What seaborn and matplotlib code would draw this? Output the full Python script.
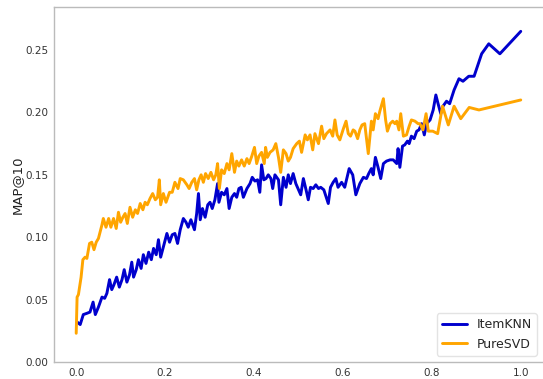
import matplotlib
matplotlib.use("Agg")
import matplotlib.pyplot as plt
import seaborn as sns
import pandas as pd

# ItemKNN: MAP@10 against the fraction threshold
itemknn_x = [
    0.002, 0.009, 0.016, 0.024, 0.031, 0.038, 0.043, 0.050, 0.058, 0.064,
    0.069, 0.075, 0.080, 0.085, 0.091, 0.097, 0.103, 0.108, 0.114, 0.120,
    0.125, 0.129, 0.135, 0.140, 0.146, 0.151, 0.157, 0.163, 0.169, 0.174,
    0.180, 0.185, 0.190, 0.196, 0.204, 0.210, 0.216, 0.222, 0.228, 0.234,
    0.241, 0.247, 0.252, 0.258, 0.266, 0.271, 0.275, 0.279, 0.284, 0.290,
    0.296, 0.301, 0.306, 0.312, 0.318, 0.321, 0.327, 0.333, 0.339, 0.344,
    0.350, 0.356, 0.361, 0.366, 0.371, 0.376, 0.384, 0.391, 0.396, 0.402,
    0.408, 0.413, 0.417, 0.422, 0.427, 0.432, 0.438, 0.442, 0.447, 0.455,
    0.460, 0.466, 0.472, 0.477, 0.482, 0.488, 0.494, 0.500, 0.505, 0.511,
    0.517, 0.522, 0.527, 0.533, 0.539, 0.545, 0.550, 0.557, 0.567, 0.572,
    0.578, 0.584, 0.589, 0.597, 0.604, 0.614, 0.622, 0.629, 0.638, 0.646,
    0.653, 0.658, 0.664, 0.668, 0.673, 0.679, 0.685, 0.691, 0.698, 0.706,
    0.713, 0.721, 0.724, 0.728, 0.734, 0.739, 0.745, 0.749, 0.754, 0.760,
    0.766, 0.771, 0.777, 0.783, 0.788, 0.796, 0.803, 0.809, 0.814, 0.820,
    0.825, 0.833, 0.840, 0.850, 0.861, 0.870, 0.883, 0.895, 0.912, 0.928,
    0.953, 1.000,
]
itemknn_map = [
    0.032, 0.030, 0.038, 0.039, 0.040, 0.048, 0.038, 0.044, 0.052, 0.051,
    0.055, 0.066, 0.058, 0.062, 0.068, 0.060, 0.066, 0.074, 0.064, 0.070,
    0.080, 0.068, 0.074, 0.082, 0.075, 0.086, 0.079, 0.088, 0.082, 0.091,
    0.086, 0.098, 0.084, 0.092, 0.103, 0.096, 0.102, 0.103, 0.095, 0.106,
    0.115, 0.112, 0.108, 0.114, 0.106, 0.119, 0.135, 0.114, 0.123, 0.116,
    0.126, 0.128, 0.123, 0.130, 0.143, 0.128, 0.136, 0.134, 0.139, 0.123,
    0.132, 0.135, 0.132, 0.139, 0.140, 0.132, 0.139, 0.143, 0.148, 0.145,
    0.146, 0.136, 0.158, 0.146, 0.147, 0.150, 0.147, 0.139, 0.150, 0.146,
    0.126, 0.148, 0.140, 0.150, 0.143, 0.151, 0.143, 0.138, 0.134, 0.147,
    0.138, 0.130, 0.140, 0.139, 0.142, 0.139, 0.140, 0.138, 0.127, 0.140,
    0.144, 0.147, 0.140, 0.144, 0.140, 0.155, 0.150, 0.134, 0.143, 0.148,
    0.147, 0.151, 0.155, 0.150, 0.164, 0.156, 0.147, 0.159, 0.161, 0.162,
    0.162, 0.159, 0.171, 0.156, 0.173, 0.174, 0.177, 0.175, 0.181, 0.179,
    0.185, 0.186, 0.191, 0.182, 0.191, 0.194, 0.202, 0.214, 0.207, 0.199,
    0.205, 0.209, 0.207, 0.218, 0.227, 0.225, 0.229, 0.229, 0.247, 0.255,
    0.247, 0.265,
]

# PureSVD: MAP@10 against the fraction threshold
puresvd_x = [
    0.000, 0.002, 0.005, 0.011, 0.015, 0.020, 0.024, 0.030, 0.035, 0.040,
    0.045, 0.050, 0.058, 0.061, 0.067, 0.073, 0.078, 0.084, 0.090, 0.095,
    0.100, 0.105, 0.110, 0.115, 0.121, 0.127, 0.133, 0.138, 0.144, 0.150,
    0.155, 0.160, 0.166, 0.172, 0.178, 0.183, 0.187, 0.190, 0.196, 0.202,
    0.210, 0.216, 0.222, 0.229, 0.234, 0.241, 0.249, 0.254, 0.260, 0.266,
    0.271, 0.276, 0.281, 0.286, 0.291, 0.297, 0.303, 0.309, 0.314, 0.318,
    0.322, 0.327, 0.333, 0.339, 0.344, 0.350, 0.356, 0.361, 0.366, 0.372,
    0.378, 0.384, 0.389, 0.395, 0.401, 0.406, 0.411, 0.417, 0.423, 0.426,
    0.430, 0.436, 0.443, 0.449, 0.455, 0.460, 0.466, 0.472, 0.477, 0.482,
    0.488, 0.496, 0.502, 0.507, 0.515, 0.520, 0.526, 0.532, 0.537, 0.545,
    0.552, 0.557, 0.563, 0.571, 0.577, 0.582, 0.587, 0.593, 0.601, 0.607,
    0.612, 0.617, 0.623, 0.627, 0.633, 0.638, 0.643, 0.649, 0.657, 0.664,
    0.668, 0.673, 0.679, 0.683, 0.691, 0.696, 0.700, 0.706, 0.712, 0.717,
    0.721, 0.726, 0.730, 0.736, 0.743, 0.749, 0.754, 0.762, 0.769, 0.773,
    0.780, 0.787, 0.792, 0.802, 0.813, 0.824, 0.837, 0.850, 0.865, 0.884,
    0.906, 1.000,
]
puresvd_map = [
    0.023, 0.052, 0.054, 0.068, 0.082, 0.084, 0.083, 0.095, 0.096, 0.090,
    0.096, 0.099, 0.110, 0.115, 0.108, 0.115, 0.108, 0.115, 0.107, 0.120,
    0.112, 0.116, 0.119, 0.111, 0.124, 0.116, 0.122, 0.119, 0.127, 0.122,
    0.128, 0.126, 0.131, 0.135, 0.130, 0.132, 0.146, 0.126, 0.135, 0.128,
    0.136, 0.136, 0.144, 0.139, 0.147, 0.146, 0.142, 0.139, 0.144, 0.147,
    0.138, 0.146, 0.150, 0.144, 0.151, 0.147, 0.152, 0.146, 0.150, 0.159,
    0.139, 0.154, 0.151, 0.159, 0.154, 0.167, 0.152, 0.161, 0.157, 0.162,
    0.157, 0.163, 0.159, 0.165, 0.172, 0.159, 0.165, 0.168, 0.159, 0.172,
    0.164, 0.168, 0.170, 0.175, 0.164, 0.152, 0.170, 0.167, 0.161, 0.164,
    0.171, 0.175, 0.177, 0.168, 0.182, 0.178, 0.182, 0.170, 0.183, 0.175,
    0.189, 0.179, 0.183, 0.186, 0.181, 0.194, 0.182, 0.178, 0.187, 0.193,
    0.183, 0.181, 0.186, 0.185, 0.179, 0.186, 0.190, 0.191, 0.167, 0.193,
    0.186, 0.199, 0.195, 0.201, 0.211, 0.194, 0.185, 0.191, 0.193, 0.191,
    0.193, 0.186, 0.199, 0.181, 0.182, 0.189, 0.194, 0.193, 0.191, 0.191,
    0.186, 0.199, 0.185, 0.185, 0.183, 0.205, 0.190, 0.205, 0.195, 0.204,
    0.202, 0.210,
]

models = ["ItemKNN", "PureSVD"]
colors = {"ItemKNN": "#0000CD", "PureSVD": "#FFA500"}

df = pd.concat([
    pd.DataFrame({"threshold": itemknn_x, "MAP@10": itemknn_map, "model": "ItemKNN"}),
    pd.DataFrame({"threshold": puresvd_x, "MAP@10": puresvd_map, "model": "PureSVD"}),
], ignore_index=True)

sns.set_style("white")
plt.rcParams["font.family"] = ["DejaVu Sans"]

fig = plt.figure(figsize=(5.43, 3.79), dpi=100)
ax = fig.add_axes([0.0994, 0.0449, 0.9006, 0.9366])

for m in models:
    sub = df[df["model"] == m]
    sns.lineplot(data=sub, x="threshold", y="MAP@10", ax=ax, color=colors[m],
                 linewidth=2.1, label=m, estimator=None, sort=False)

ax.set_xlim(-0.05, 1.05)
ax.set_ylim(0, 0.2845)
ax.set_xticks([0.0, 0.2, 0.4, 0.6, 0.8, 1.0])
ax.set_yticks([0.00, 0.05, 0.10, 0.15, 0.20, 0.25])
ax.set_xticklabels(["0.0", "0.2", "0.4", "0.6", "0.8", "1.0"])
ax.set_yticklabels(["0.00", "0.05", "0.10", "0.15", "0.20", "0.25"])
ax.set_xlabel("")
ax.set_ylabel("MAP@10", fontsize=9.5, color="#222222", labelpad=1)
ax.tick_params(axis="both", labelsize=7.5, labelcolor="#333333",
               length=2, color="#bbbbbb", pad=2)

for side in ["left", "bottom", "top"]:
    ax.spines[side].set_color("#bbbbbb")
    ax.spines[side].set_linewidth(1.0)
ax.spines["right"].set_visible(False)

ax.legend(loc="lower right", fontsize=9, frameon=True, edgecolor="#dddddd",
          borderaxespad=0.5)

fig.savefig("out.png", dpi=100)
